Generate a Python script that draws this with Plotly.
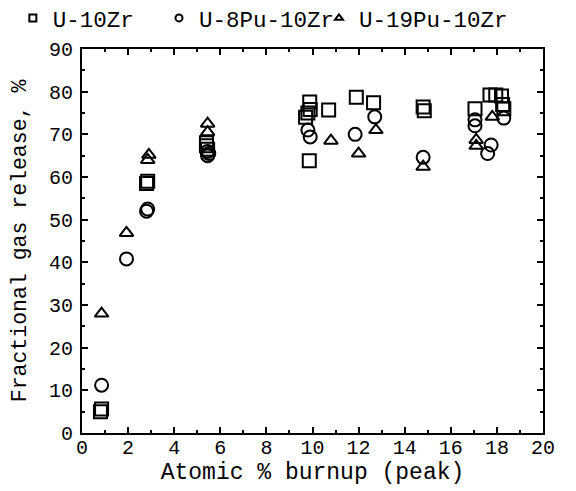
import plotly.graph_objects as go

# U-10Zr (squares)
u10zr_x = [0.8, 0.85, 2.8, 2.85, 5.4, 5.45, 5.4, 9.7, 9.8, 9.9, 9.88, 9.86, 10.7, 11.9, 12.65, 14.8, 14.85, 17.05, 17.7, 17.95, 18.2, 18.3, 18.25]
u10zr_y = [5.0, 5.6, 58.5, 59.0, 68.0, 66.5, 67.3, 74.0, 75.0, 75.8, 77.6, 63.8, 75.7, 78.7, 77.4, 76.4, 75.5, 76.0, 79.2, 79.2, 79.0, 76.0, 77.0]

# U-8Pu-10Zr (circles)
u8pu_x = [0.85, 1.93, 2.8, 2.85, 5.45, 5.5, 5.45, 9.8, 9.9, 11.85, 12.7, 14.8, 17.05, 17.05, 18.3, 17.75, 17.6]
u8pu_y = [11.2, 40.8, 52.0, 52.5, 66.0, 65.5, 65.0, 71.0, 69.4, 70.0, 74.1, 64.6, 73.4, 72.0, 73.8, 67.5, 65.5]

# U-19Pu-10Zr (triangles)
u19pu_x = [0.85, 1.93, 2.85, 2.9, 5.45, 5.45, 10.8, 12.0, 12.75, 14.8, 17.1, 17.1, 17.8]
u19pu_y = [28.0, 46.9, 64.0, 65.2, 72.5, 70.5, 68.5, 65.5, 71.0, 62.4, 68.7, 67.3, 74.1]

series_names = ["U-10Zr", "U-8Pu-10Zr", "U-19Pu-10Zr"]

FONT = "Liberation Mono, Courier New, monospace"

fig = go.Figure()

series = [
    (u10zr_x, u10zr_y, "square-open", 13, "legend"),
    (u8pu_x, u8pu_y, "circle-open", 13, "legend2"),
    (u19pu_x, u19pu_y, "triangle-up-open", 12, "legend3"),
]

for (xs, ys, sym, sz, lg), name in zip(series, series_names):
    fig.add_trace(go.Scatter(
        x=xs, y=ys, mode="markers", name=name, showlegend=False,
        marker=dict(symbol=sym, size=sz, color="black", line=dict(color="black", width=2)),
    ))
    # legend-only entry with a small symbol
    fig.add_trace(go.Scatter(
        x=[None], y=[None], mode="markers", name=name, legend=lg,
        marker=dict(symbol=sym, size=7, color="black", line=dict(color="black", width=2)),
    ))

legend_common = dict(orientation="h", yanchor="middle", xanchor="left",
                     font=dict(family=FONT, size=22.5, color="black"),
                     bgcolor="rgba(0,0,0,0)", borderwidth=0)

fig.update_layout(
    width=568, height=483,
    margin=dict(l=74, r=33, t=41, b=58, autoexpand=False),
    paper_bgcolor="white", plot_bgcolor="white",
    font=dict(family=FONT, color="black"),
    legend=dict(x=-0.15, y=1.08, **legend_common),
    legend2=dict(x=0.167, y=1.08, **legend_common),
    legend3=dict(x=0.514, y=1.08, **legend_common),
    xaxis=dict(
        range=[0, 20], dtick=2, tick0=0,
        ticks="inside", ticklen=6, tickwidth=1.5, tickcolor="black",
        minor=dict(dtick=1, ticks="inside", ticklen=3, tickcolor="black"),
        showline=True, linecolor="black", linewidth=2, mirror="ticks",
        showgrid=False, zeroline=False, automargin=False,
        ticklabelstandoff=-5,
        tickfont=dict(family=FONT, size=20, color="black"),
        title=dict(text="Atomic % burnup (peak)", font=dict(family=FONT, size=23, color="black"), standoff=1),
    ),
    yaxis=dict(
        range=[0, 90], dtick=10, tick0=0,
        ticks="inside", ticklen=6, tickwidth=1.5, tickcolor="black",
        minor=dict(dtick=5, ticks="inside", ticklen=3, tickcolor="black"),
        showline=True, linecolor="black", linewidth=2, mirror="ticks",
        showgrid=False, zeroline=False, automargin=False,
        ticklabelstandoff=3,
        tickfont=dict(family=FONT, size=20, color="black"),
        title=dict(text="Fractional gas release, %", font=dict(family=FONT, size=21.5, color="black"), standoff=20),
    ),
)

fig.write_html("out.html")
